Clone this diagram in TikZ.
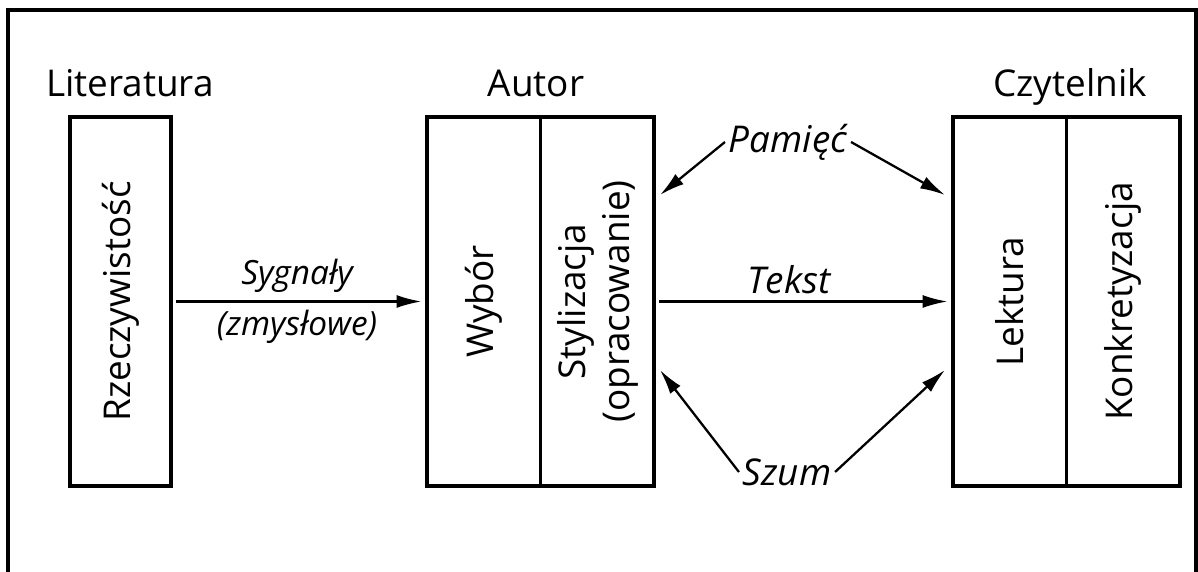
\documentclass[tikz,border=0pt]{standalone}
\usepackage{fontspec}
\setmainfont{Open Sans}
\usetikzlibrary{arrows.meta}
\usetikzlibrary{positioning}

\begin{document}
\begin{tikzpicture}[
  box/.style={draw,line width=2.2pt,minimum width=2.02cm,minimum height=7.38cm,inner sep=0pt},
  widebox/.style={box,minimum width=4.54cm},
  title/.style={font=\fontsize{21}{25}\selectfont,anchor=base},
  vtext/.style={rotate=90,font=\fontsize{21}{25}\selectfont,align=center},
  lab/.style={font=\fontsize{21}{25}\selectfont\itshape,inner sep=2pt},
  arr/.style={line width=1.3pt,-{Latex[length=5mm,width=2.6mm]}}]
\useasboundingbox (0,0) rectangle (23.96,11.44);
\draw[line width=2.8pt] (0.16,0) -- (0.16,11.24) -- (23.92,11.24) -- (23.92,0);

% boxes
\node[box] (lit) at (2.41,5.41) {};
\node[widebox] (autor) at (10.81,5.41) {};
\node[widebox] (czyt) at (21.33,5.41) {};
\draw[line width=1.4pt] (autor.north) -- (autor.south);
\draw[line width=1.4pt] (czyt.north) -- (czyt.south);

\node[title] (tlit) at (2.60,9.5) {Literatura};
\node[title] (taut) at (10.72,9.5) {Autor};
\node[title] (tczy) at (21.40,9.5) {Czytelnik};

\node[vtext] (rz) at (lit.center) {Rzeczywistość};
\node[vtext] (wyb) at (9.68,5.41) {Wybór};
\node[vtext] (sty) at (11.96,5.41) {Stylizacja\\(opracowanie)};
\node[vtext] (lek) at (20.20,5.41) {Lektura};
\node[vtext] (kon) at (22.46,5.41) {Konkretyzacja};

% signals and text
\draw[arr,shorten <=2pt,shorten >=2pt] (lit.east) -- (autor.west);
\node[lab,font=\fontsize{19}{23}\selectfont\itshape] (syg) at (5.94,5.92) {Sygnały};
\node[lab,font=\fontsize{19}{23}\selectfont\itshape] (zmy) at (5.94,4.90) {(zmysłowe)};
\draw[arr,shorten <=2pt,shorten >=2pt] (autor.east) -- (czyt.west);
\node[lab] (tek) at (15.78,5.84) {Tekst};

% memory and noise
\node[lab] (pam) at (15.76,8.6) {Pamięć};
\node[lab] (szum) at (15.74,2.0) {Szum};
\coordinate (pa) at (13.2,7.54);
\coordinate (pb) at (18.9,7.54);
\coordinate (sa) at (13.2,4.04);
\coordinate (sb) at (18.9,4.04);
\draw[arr] (pam.west) -- (pa);
\draw[arr] (pam.east) -- (pb);
\draw[arr] (szum.west) -- (sa);
\draw[arr] (szum.east) -- (sb);
\end{tikzpicture}
\end{document}
